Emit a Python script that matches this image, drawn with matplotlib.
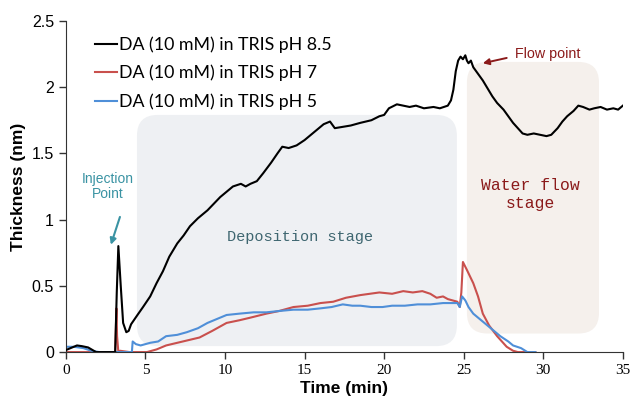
import numpy as np
import matplotlib.pyplot as plt
from matplotlib.patches import FancyBboxPatch

# Datos (tiempo en min, espesor en nm)
t_85 = [0, 0.3, 0.7, 1.0, 1.4, 1.9, 2.5, 3.1, 3.2, 3.3, 3.45, 3.6, 3.8, 3.95, 4.1,
        4.5, 4.85, 5.3, 5.7, 6.1, 6.5, 7.0, 7.4, 7.8, 8.3, 8.9, 9.3, 9.7, 10.1,
        10.5, 11.0, 11.3, 11.6, 12.0, 12.4, 12.9, 13.3, 13.6, 14.0, 14.5, 15.0,
        15.3, 15.8, 16.2, 16.6, 16.9, 17.4, 17.9, 18.5, 19.2, 19.7, 20.0, 20.3,
        20.8, 21.2, 21.6, 22.0, 22.5, 23.1, 23.5, 24.0, 24.2, 24.35, 24.5, 24.65,
        24.8, 24.95, 25.1, 25.2, 25.3, 25.45, 25.6, 25.9, 26.2, 26.5, 26.8, 27.1,
        27.5, 27.8, 28.1, 28.4, 28.7, 29.0, 29.4, 29.8, 30.2, 30.5, 30.9, 31.2,
        31.5, 31.9, 32.2, 32.5, 32.9, 33.2, 33.6, 34.0, 34.4, 34.7, 35.0]
y_85 = [0.015, 0.03, 0.05, 0.045, 0.035, 0.0, 0.0, 0.0, 0.45, 0.80, 0.50, 0.22, 0.15,
        0.16, 0.21, 0.28, 0.34, 0.42, 0.52, 0.61, 0.72, 0.82, 0.88, 0.95, 1.01,
        1.07, 1.12, 1.17, 1.21, 1.25, 1.27, 1.25, 1.27, 1.29, 1.35, 1.43, 1.50,
        1.55, 1.54, 1.56, 1.60, 1.63, 1.68, 1.72, 1.74, 1.69, 1.70, 1.71, 1.73,
        1.75, 1.78, 1.79, 1.84, 1.87, 1.86, 1.85, 1.86, 1.84, 1.85, 1.84, 1.86,
        1.90, 1.98, 2.12, 2.20, 2.23, 2.21, 2.24, 2.20, 2.18, 2.20, 2.15, 2.10,
        2.05, 1.99, 1.93, 1.88, 1.83, 1.78, 1.73, 1.69, 1.65, 1.64, 1.65, 1.64,
        1.63, 1.64, 1.69, 1.74, 1.78, 1.82, 1.86, 1.85, 1.83, 1.84, 1.85, 1.83,
        1.84, 1.83, 1.86]

t_7 = [0, 1.0, 2.0, 3.1, 3.18, 3.22, 3.3, 3.4, 4.0, 5.1, 5.7, 6.3, 7.0, 7.7, 8.4,
       9.2, 10.1, 10.9, 11.6, 12.6, 13.4, 14.3, 15.2, 16.0, 16.8, 17.6, 18.5,
       19.1, 19.7, 20.5, 21.2, 21.8, 22.4, 22.9, 23.3, 23.7, 24.0, 24.3, 24.6,
       24.75, 24.85, 24.95, 25.2, 25.6, 25.9, 26.2, 26.6, 27.1, 27.7, 28.1,
       28.4, 29.0, 29.5]
y_7 = [0.0, 0.0, 0.0, 0.0, 0.33, 0.12, 0.0, 0.01, 0.0, 0.0, 0.02, 0.05, 0.07, 0.09,
       0.11, 0.16, 0.22, 0.24, 0.26, 0.29, 0.31, 0.34, 0.35, 0.37, 0.38, 0.41,
       0.43, 0.44, 0.45, 0.44, 0.46, 0.45, 0.46, 0.44, 0.41, 0.42, 0.40, 0.39,
       0.38, 0.34, 0.45, 0.68, 0.62, 0.52, 0.42, 0.29, 0.20, 0.12, 0.04, 0.01,
       0.0, 0.0, 0.0]

t_5 = [0, 0.5, 1.1, 1.6, 2.1, 3.0, 4.15, 4.2, 4.4, 4.7, 5.3, 5.8, 6.3, 7.0, 7.6,
       8.3, 8.9, 9.5, 10.1, 10.9, 11.8, 12.6, 13.4, 14.3, 15.2, 16.0, 16.7,
       17.4, 18.0, 18.5, 19.2, 19.9, 20.5, 21.3, 22.1, 22.9, 23.7, 24.3, 24.6,
       24.75, 24.9, 25.1, 25.3, 25.6, 26.0, 26.5, 27.3, 27.8, 28.1, 28.6, 29.0,
       29.5]
y_5 = [0.04, 0.04, 0.03, 0.01, 0.0, 0.0, 0.0, 0.08, 0.06, 0.05, 0.07, 0.08, 0.12,
       0.13, 0.15, 0.18, 0.22, 0.25, 0.28, 0.29, 0.30, 0.30, 0.31, 0.32, 0.32,
       0.33, 0.34, 0.36, 0.35, 0.35, 0.34, 0.34, 0.35, 0.35, 0.36, 0.36, 0.37,
       0.37, 0.37, 0.34, 0.42, 0.39, 0.34, 0.29, 0.25, 0.20, 0.12, 0.08, 0.05,
       0.03, 0.0, 0.0]

series_labels = ['DA (10 mM) in TRIS pH 8.5', 'DA (10 mM) in TRIS pH 7', 'DA (10 mM) in TRIS pH 5']
x_ticks = [0, 5, 10, 15, 20, 25, 30, 35]
y_ticks = [0, 0.5, 1, 1.5, 2, 2.5]
y_tick_labels = ['0', '0.5', '1', '1.5', '2', '2.5']

fig = plt.figure(figsize=(6.33, 4.01), dpi=100)
ax = fig.add_axes([0.104, 0.122, 0.88, 0.826])

# Zonas sombreadas (cajas redondeadas)
aspect = (2.5 / 331) / (35 / 557)
dep = FancyBboxPatch((4.47, 0.045), 20.1, 1.745,
                     boxstyle='round,pad=0,rounding_size=1.3', mutation_aspect=aspect,
                     fc='#eef0f3', ec='none', zorder=0)
wat = FancyBboxPatch((25.2, 0.14), 8.3, 2.05,
                     boxstyle='round,pad=0,rounding_size=1.3', mutation_aspect=aspect,
                     fc='#f5f0ec', ec='none', zorder=0)
ax.add_patch(dep)
ax.add_patch(wat)

ax.plot(t_85, y_85, color='black', lw=1.5, label=series_labels[0], zorder=3)
ax.plot(t_7, y_7, color='#c9504d', lw=1.5, label=series_labels[1], zorder=2)
ax.plot(t_5, y_5, color='#4f8fd8', lw=1.5, label=series_labels[2], zorder=2)

ax.set_xlim(0, 35)
ax.set_ylim(0, 2.5)
ax.set_xticks(x_ticks)
ax.set_xticklabels([str(v) for v in x_ticks], family='Liberation Serif', fontsize=11)
ax.set_yticks(y_ticks)
ax.set_yticklabels(y_tick_labels, family='Liberation Sans', fontsize=11.5)
ax.tick_params(direction='out', length=5, width=1, color='#333333')
for s in ['top', 'right']:
    ax.spines[s].set_visible(False)
for s in ['left', 'bottom']:
    ax.spines[s].set_color('#333333')

ax.set_xlabel('Time (min)', family='Liberation Sans', fontsize=12.5, fontweight='bold', labelpad=3)
ax.set_ylabel('Thickness (nm)', family='Liberation Sans', fontsize=12.5, fontweight='bold', labelpad=4)

ax.legend(loc='upper left', bbox_to_anchor=(0.04, 0.975), frameon=False,
          prop={'family': 'Lato', 'size': 12.8}, handlelength=1.25, handletextpad=0.1,
          labelspacing=0.68, borderaxespad=0)

# Anotaciones
ax.text(14.7, 0.87, 'Deposition stage', family='Liberation Mono', fontsize=11,
        color='#3e6670', ha='center', va='center')
ax.text(29.2, 1.19, 'Water flow\nstage', family='Liberation Mono', fontsize=11.8,
        color='#8b1a1a', ha='center', va='center', linespacing=1.25)
ax.text(30.3, 2.25, 'Flow point', family='Liberation Sans', fontsize=10.3,
        color='#8b1a1a', ha='center', va='center')
ax.annotate('', xy=(26.2, 2.18), xytext=(27.7, 2.22),
            arrowprops=dict(arrowstyle='-|>', color='#8b1a1a', lw=1.4, mutation_scale=9,
                            shrinkA=0, shrinkB=0))
ax.text(2.65, 1.25, 'Injection\nPoint', family='Liberation Sans', fontsize=10,
        color='#3a93a3', ha='center', va='center', linespacing=1.15)
ax.annotate('', xy=(2.83, 0.81), xytext=(3.4, 1.02),
            arrowprops=dict(arrowstyle='-|>', color='#3a93a3', lw=1.5, mutation_scale=9,
                            shrinkA=0, shrinkB=0))

plt.savefig('out.png', dpi=100)
